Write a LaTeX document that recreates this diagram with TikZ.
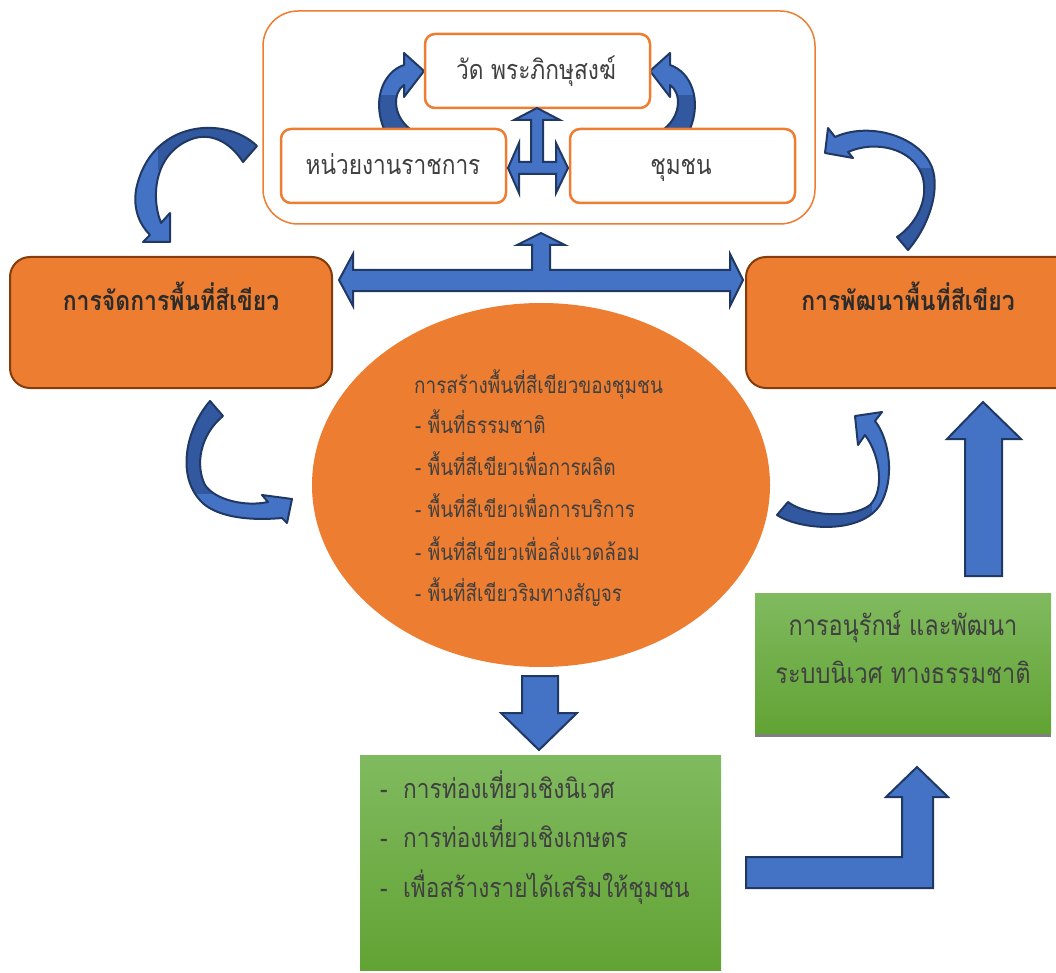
\documentclass[tikz,border=0pt]{standalone}
\usepackage{fontspec}
\newfontfamily\thaifont[Script=Thai, FakeStretch=0.84]{Loma}
\newfontfamily\thaititle[Script=Thai, FakeStretch=0.85]{Loma}
\usetikzlibrary{shapes.geometric}
\definecolor{orfill}{HTML}{ED7D31}
\definecolor{orline}{HTML}{ED7D31}
\definecolor{brownline}{HTML}{843C0C}
\definecolor{bluefill}{HTML}{4472C4}
\definecolor{blueline}{HTML}{203864}
\definecolor{bluedark}{RGB}{50,88,160}
\definecolor{greentop}{RGB}{128,186,95}
\definecolor{greenbot}{RGB}{98,163,52}
\definecolor{txt}{HTML}{404040}
\definecolor{titletxt}{HTML}{2B2B2B}
\definecolor{shadowgray}{HTML}{7F7F7F}
\newcommand{\ArrowCurve}[2]{%
  \fill[bluefill] #1;
  \begin{scope}\clip #1; \fill[bluedark] #2; \end{scope}
  \draw[curveline] #1;
}
\begin{document}
\begin{tikzpicture}[x=1pt,y=-1pt,
  topbox/.style={draw=orline, line width=2.5pt, rounded corners=10pt, fill=white,
    minimum width=225pt, minimum height=74pt, inner sep=0pt},
  orbox/.style={draw=brownline, line width=2pt, fill=orfill, rounded corners=20pt,
    inner sep=0pt},
  blockarrow/.style={fill=bluefill, draw=blueline, line width=2pt, line join=miter},
  curveline/.style={draw=blueline, line width=2pt, line join=round},
  thtext/.style={font=\thaifont\fontsize{#1}{#1}\selectfont, text=txt, inner sep=0pt},
  titletext/.style={font=\thaititle\bfseries\fontsize{#1}{#1}\selectfont, text=titletxt, inner sep=0pt},
  greenbox/.style={top color=greentop, bottom color=greenbot, inner sep=0pt},
]
\path[use as bounding box] (0,0) rectangle (1056,973);

% outer frame
\node[draw=orline, line width=1.5pt, rounded corners=35pt, minimum width=552pt,
  minimum height=213pt] (frame) at (539,117.5) {};

% curved arrows inside frame (behind boxes)
\ArrowCurve{(384,129) .. controls (372,100) and (383,72) .. (404,65) -- (404,53) -- (424,71)
  -- (404,97) -- (404,85) .. controls (393,92) and (392,115) .. (410,129) -- cycle}
  {(365,95) rectangle (415,135)}
\ArrowCurve{(690,129) .. controls (702,100) and (691,72) .. (670,65) -- (670,53) -- (650,71)
  -- (670,97) -- (670,85) .. controls (681,92) and (682,115) .. (664,129) -- cycle}
  {(659,95) rectangle (709,135)}

% top boxes
\node[topbox] (wat) at (537.5,71) {};
\node[topbox] (gov) at (393.5,166) {};
\node[topbox] (comm) at (682.5,166) {};
\node[thtext=27, anchor=base] (wattext) at (536,80) {วัด พระภิกษุสงฆ์};
\node[thtext=27, anchor=base] (govtext) at (393,175) {หน่วยงานราชการ};
\node[thtext=27, anchor=base] (commtext) at (681,175) {ชุมชน};

% small cross arrow
\draw[blockarrow] (537,108) -- (560,120) -- (543,120) -- (543,162) -- (556,162) -- (556,143)
  -- (568,168) -- (556,193) -- (556,174) -- (519,174) -- (519,193) -- (508,168) -- (519,143)
  -- (519,162) -- (531,162) -- (531,120) -- (514,120) -- cycle;

% orange side boxes
\node[orbox, minimum width=322pt, minimum height=131pt] (manage) at (171,322.5) {};
\node[orbox, minimum width=330pt, minimum height=131pt] (develop) at (911,322.5) {};
\node[titletext=27, anchor=base] (managetext) at (171,310) {การจัดการพื้นที่สีเขียว};
\node[titletext=27, anchor=base] (developtext) at (908,310) {การพัฒนาพื้นที่สีเขียว};

% big horizontal double arrow with up branch
\draw[blockarrow] (339,280) -- (353,254) -- (353,270) -- (532,270) -- (532,245) -- (517,245)
  -- (541,233) -- (565,245) -- (550,245) -- (550,270) -- (730,270) -- (730,254) -- (743,280)
  -- (730,306) -- (730,291) -- (353,291) -- (353,306) -- cycle;

% curved arrows outside
\ArrowCurve{(257,146) .. controls (225,115) and (150,120) .. (136,190) .. controls (133,210) and (140,225) .. (150,235)
  -- (143,242) -- (170,242) -- (170,213) -- (161,223) .. controls (150,195) and (155,150) .. (195,138)
  .. controls (215,133) and (232,145) .. (243,162) -- cycle}
  {(158,105) rectangle (265,170)}
\ArrowCurve{(908,250) .. controls (930,225) and (942,185) .. (930,163) .. controls (915,135) and (868,122) .. (835,137)
  -- (828,128) -- (825,153) -- (853,158) -- (848,152) .. controls (875,140) and (912,148) .. (922,175)
  .. controls (930,200) and (915,225) .. (897,237) -- cycle}
  {(880,168) rectangle (950,255)}
\ArrowCurve{(223,416) -- (210,401) .. controls (185,430) and (175,480) .. (205,505) .. controls (225,520) and (260,520) .. (282,518)
  -- (287,523) -- (292,499) -- (262,495) -- (268,502) .. controls (245,507) and (215,500) .. (205,485)
  .. controls (195,465) and (200,435) .. (223,416) -- cycle}
  {(165,395) rectangle (232,494)}
\ArrowCurve{(777,515) .. controls (800,530) and (860,535) .. (880,505) .. controls (895,480) and (890,440) .. (875,421)
  -- (882,412) -- (855,416) -- (858,445) -- (865,435) .. controls (880,455) and (885,490) .. (870,505)
  .. controls (850,520) and (805,515) .. (788,502) -- cycle}
  {(765,482) rectangle (872,545)}

% central ellipse
\node[ellipse, fill=orfill, minimum width=458pt, minimum height=364pt, inner sep=0pt] (ell) at (541,485) {};
\node[thtext=22.5, anchor=base west] (e0) at (414,393) {การสร้างพื้นที่สีเขียวของชุมชน};
\node[thtext=22.5, anchor=base west] (e1) at (415,433) {- พื้นที่ธรรมชาติ};
\node[thtext=22.5, anchor=base west] (e2) at (415,475) {- พื้นที่สีเขียวเพื่อการผลิต};
\node[thtext=22.5, anchor=base west] (e3) at (415,517) {- พื้นที่สีเขียวเพื่อการบริการ};
\node[thtext=22.5, anchor=base west] (e4) at (415,560) {- พื้นที่สีเขียวเพื่อสิ่งแวดล้อม};
\node[thtext=22.5, anchor=base west] (e5) at (415,601) {- พื้นที่สีเขียวริมทางสัญจร};

% down arrow
\draw[blockarrow] (522,676) -- (558,676) -- (558,713) -- (577,713) -- (539,750) -- (501,713)
  -- (522,713) -- cycle;

% bottom green box
\node[greenbox, minimum width=361pt, minimum height=215pt] (tour) at (540.5,862.5) {};
\node[thtext=27, anchor=base west] (d1) at (380,798) {-};
\node[thtext=27, anchor=base west] (t1) at (403,798) {การท่องเที่ยวเชิงนิเวศ};
\node[thtext=27, anchor=base west] (d2) at (380,847) {-};
\node[thtext=27, anchor=base west] (t2) at (403,847) {การท่องเที่ยวเชิงเกษตร};
\node[thtext=27, anchor=base west] (d3) at (380,897) {-};
\node[thtext=27, anchor=base west] (t3) at (403,897) {เพื่อสร้างรายได้เสริมให้ชุมชน};

% right green box
\fill[shadowgray] (755,731) rectangle (1051,737);
\node[greenbox, minimum width=296pt, minimum height=140pt] (conserve) at (903,663) {};
\node[thtext=28, anchor=base] (c1) at (903,635) {การอนุรักษ์ และพัฒนา};
\node[thtext=28, anchor=base] (c2) at (903,683) {ระบบนิเวศ ทางธรรมชาติ};

% right up arrow
\draw[blockarrow] (965,576) -- (965,439) -- (947,439) -- (983,402) -- (1021,439) -- (1002,439)
  -- (1002,576) -- cycle;

% bent arrow
\draw[blockarrow] (746,857) -- (902,857) -- (902,797) -- (886,797) -- (917,767) -- (948,797)
  -- (933,797) -- (933,888) -- (746,888) -- cycle;
\end{tikzpicture}
\end{document}
